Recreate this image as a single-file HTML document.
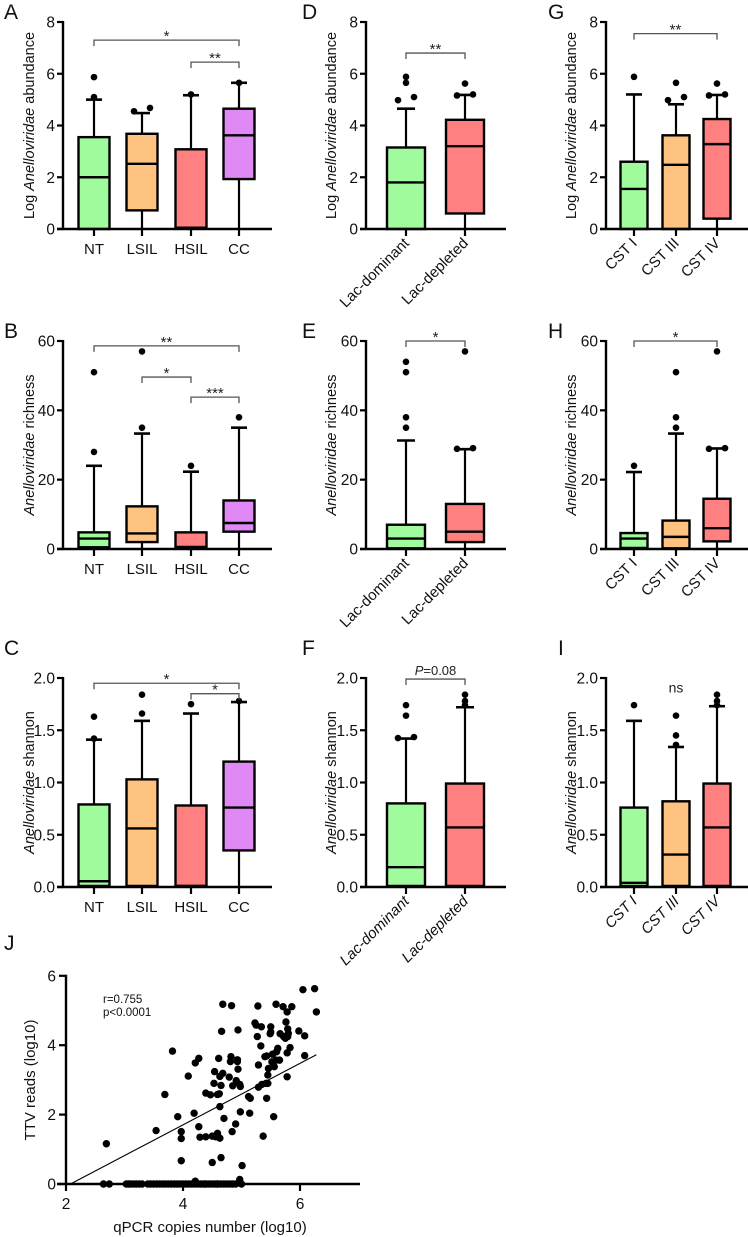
<!DOCTYPE html>
<html><head><meta charset="utf-8"><style>
html,body{margin:0;padding:0;background:#fff;}
svg{display:block;font-family:"Liberation Sans",Arial,sans-serif;}
</style></head><body>
<svg id="fig" width="748" height="1237" viewBox="0 0 748 1237" xmlns="http://www.w3.org/2000/svg"></svg>
<script>
// ---------- data ----------
const catsRisk = ["NT","LSIL","HSIL","CC"];
const catsLac = ["Lac-dominant","Lac-depleted"];
const catsCST = ["CST I","CST III","CST IV"];
const colRisk = ["#a0fb9d","#fec281","#ff8080","#e088f4"];
const colLac = ["#a0fb9d","#ff8080"];
const colCST = ["#a0fb9d","#fec281","#ff8080"];
// box stats: [q1, median, q3, whiskerLow, whiskerHigh]
const boxA = [[0,2.0,3.55,0,5.0],[0.72,2.52,3.68,0,4.48],[0.02,0.05,3.08,0,5.17],[1.93,3.62,4.65,0,5.65]];
const outA = [[5.1,5.87],[4.55,4.68],[5.2],[5.65]];
const sigA = [[0,3,7.3,"*"],[2,3,6.45,"**"]];
const boxD = [[0,1.8,3.15,0,4.65],[0.6,3.2,4.22,0,5.18]];
const outD = [[4.98,5.1,5.65,5.88],[5.16,5.2,5.62]];
const sigD = [[0,1,6.8,"**"]];
const boxG = [[0,1.55,2.6,0,5.2],[0,2.48,3.62,0,4.82],[0.4,3.28,4.25,0,5.18]];
const outG = [[5.88],[4.98,5.1,5.65],[5.16,5.2,5.62]];
const sigG = [[0,2,7.55,"**"]];
const boxB = [[0.5,3,4.8,0,24],[2,4.5,12.3,0,33.3],[0.5,0.6,4.8,0,22.3],[5,7.5,14,0,35]];
const outB = [[28,51],[35,57],[24],[38]];
const sigB = [[0,3,58.6,"**"],[1,2,49.6,"*"],[2,3,43.8,"***"]];
const boxE = [[0.2,3,7,0,31.3],[2,5,13,0,28.8]];
const outE = [[35,38,51,54],[28.9,29.1,57]];
const sigE = [[0,1,60,"*"]];
const boxH = [[0.3,3,4.6,0,22.2],[0.2,3.5,8.2,0,33.3],[2.2,6,14.5,0,29]];
const outH = [[24],[35,38,51],[28.9,29.1,57]];
const sigH = [[0,2,60,"*"]];
const boxC = [[0.01,0.055,0.79,0,1.41],[0.01,0.56,1.03,0,1.59],[0.01,0.01,0.78,0,1.66],[0.35,0.76,1.2,0,1.77]];
const outC = [[1.42,1.63],[1.66,1.84],[1.75],[1.78]];
const sigC = [[0,3,1.95,"*"],[2,3,1.85,"*"]];
const boxF = [[0.01,0.19,0.8,0,1.42],[0.01,0.57,0.99,0,1.72]];
const outF = [[1.425,1.435,1.64,1.74],[1.74,1.78,1.84]];
const sigF = [[0,1,1.99,"P=0.08"]];
const boxI = [[0.01,0.04,0.76,0,1.59],[0.01,0.31,0.82,0,1.34],[0.01,0.57,0.99,0,1.73]];
const outI = [[1.74],[1.36,1.45,1.64],[1.74,1.78,1.84]];
const nsI = [1,1.9,"ns"];
const ticksAbund = [0,2,4,6,8];
const ticksRich = [0,20,40,60];
const ticksShan = ["0.0","0.5","1.0","1.5","2.0"];
// scatter J
const jx = [2.69,2.64,2.74,3.03,3.1,3.15,3.2,3.3,3.4,3.5,3.6,3.7,3.8,3.9,4.0,4.05,4.1,4.2,4.25,4.3,4.35,4.4,4.45,4.5,4.55,4.6,4.65,4.7,4.8,4.9,5.0,4.97,4.21,
3.54,3.69,3.82,3.91,3.97,3.97,3.97,4.09,4.19,4.21,4.27,4.27,4.29,4.39,4.39,4.47,4.5,4.5,4.56,4.59,4.53,4.54,4.59,4.62,4.61,4.63,4.63,4.68,4.63,4.65,4.65,4.66,4.68,4.7,4.79,4.81,4.82,4.83,4.84,4.85,4.9,4.91,4.93,4.94,4.94,4.93,4.97,4.98,4.98,5.01,5.12,5.15,5.14,5.23,5.25,5.27,5.28,5.29,5.29,5.33,5.34,5.35,5.37,5.4,5.42,5.43,5.45,5.43,5.45,5.46,5.49,5.5,5.5,5.52,5.53,5.55,5.56,5.59,5.59,5.6,5.62,5.65,5.66,5.71,5.72,5.75,5.76,5.78,5.78,5.78,5.79,5.79,5.8,5.83,5.86,5.98,6.05,6.08,6.08,6.25,6.28,
3.07,3.25,3.45,3.55,3.65,3.75,3.85,3.95,4.15,4.38,4.58,4.75,4.85];
const jy = [1.16,0,0,0,0,0,0,0,0,0,0,0,0,0,0,0,0,0,0,0,0,0,0,0,0,0,0,0,0,0,0,0.13,0.08,
1.54,2.58,3.83,1.94,1.51,1.31,0.67,3.11,2.04,3.49,3.62,1.65,1.35,1.36,2.62,2.57,1.38,0.62,1.36,1.46,2.9,3.24,2.58,2.6,3.62,2.23,3.1,3.19,1.32,0.76,2.84,4.4,5.18,1.89,3.08,3.53,3.67,5.14,1.51,2.83,1.73,2.98,3.53,4.44,3.31,3.58,2.87,2.81,2.08,0.53,2.52,2.47,2.04,4.64,4.58,4.25,5.13,3.43,2.79,3.98,4.53,2.87,1.38,3.67,2.9,3.69,2.9,2.47,3.14,3.33,4.33,4.38,4.53,3.52,3.74,1.94,3.38,5.18,3.57,3.81,3.91,3.57,4.33,5.11,4.25,4.2,4.67,4.96,3.09,3.78,4.47,4.25,4.34,3.93,5.11,4.41,5.6,4.27,3.7,5.63,4.96,
0,0,0,0,0,0,0,0,0,0,0,0,0];
const fitSlope = 0.886, fitIntercept = -1.84;
const jTicksX = [2,4,6];
const jTicksY = [0,2,4,6];

// ---------- helpers ----------
const svg = document.getElementById('fig');
const NS = "http://www.w3.org/2000/svg";
function mk(tag, attrs, parent){const e=document.createElementNS(NS,tag);for(const k in attrs)e.setAttribute(k,attrs[k]);(parent||svg).appendChild(e);return e;}
function txt(s, attrs, parent){const e=mk('text',attrs,parent);e.textContent=s;return e;}

function panel(cfg){
  const g = mk('g',{});
  
  
  const y = v => cfg.y0 - (v - cfg.min) / (cfg.max - cfg.min) * (cfg.y0 - cfg.yTop);
  const range = cfg.max - cfg.min;
  const L = txt(cfg.letter,{x:cfg.lx,y:cfg.ly,'font-size':21,fill:'#111'},g);
  
  
  const yt = mk('text',{transform:`translate(${cfg.titleX},${(cfg.y0+cfg.yTop)/2}) rotate(-90)`,'text-anchor':'middle','font-size':14.5,fill:'#111'},g);
  
  
  cfg.title.forEach(p=>{const t=mk('tspan',{}, yt);t.textContent=p[0];if(p[1])t.setAttribute('font-style','italic');});
  cfg.boxes.forEach((b,i)=>{
    const cx = cfg.centers[i], w = cfg.bw, cap = cfg.cap;
    const bg = mk('g',{},g);
    
    
    mk('line',{x1:cx,x2:cx,y1:y(b[2]),y2:y(b[4]),stroke:'#000','stroke-width':2.2},bg);
    mk('line',{x1:cx-cap/2,x2:cx+cap/2,y1:y(b[4]),y2:y(b[4]),stroke:'#000','stroke-width':2.6},bg);
    mk('line',{x1:cx,x2:cx,y1:y(b[0]),y2:y(b[3]),stroke:'#000','stroke-width':2.2},bg);
    mk('rect',{x:cx-w/2,y:y(b[2]),width:w,height:Math.max(1,y(b[0])-y(b[2])),fill:cfg.colors[i],stroke:'#000','stroke-width':2.4},bg);
    mk('line',{x1:cx-w/2,x2:cx+w/2,y1:y(b[1]),y2:y(b[1]),stroke:'#000','stroke-width':2.4},bg);
    const outs = cfg.outs[i];
    const tol = range*0.02;
    outs.forEach((v,k)=>{
      let dx=0;
      const near = outs.filter((u,m)=>m!==k && Math.abs(u-v)<tol);
      if(near.length){dx = (outs.findIndex(u=>Math.abs(u-v)<tol)===k)?-8:8;}
      const c = mk('circle',{cx:cx+dx,cy:y(v),r:3.3,fill:'#000'},bg);
      
      
    });
  });
  const ax = mk('g',{},g);
  
  
  mk('line',{x1:cfg.ax,x2:cfg.ax,y1:cfg.yTop-1,y2:cfg.y0+1,stroke:'#000','stroke-width':2.4},ax);
  mk('line',{x1:cfg.ax-6,x2:cfg.xEnd,y1:cfg.y0,y2:cfg.y0,stroke:'#000','stroke-width':2.4},ax);
  cfg.ticks.forEach(t=>{
    const v=parseFloat(t), yy=y(v);
    mk('line',{x1:cfg.ax-6,x2:cfg.ax,y1:yy,y2:yy,stroke:'#000','stroke-width':2.2},ax);
    const tl = txt(String(t),{x:cfg.ax-8,y:yy+5.5,'text-anchor':'end','font-size':15.5,fill:'#111'},ax);
    
    
  });
  cfg.centers.forEach((cx,i)=>{
    mk('line',{x1:cx,x2:cx,y1:cfg.y0,y2:cfg.y0+7,stroke:'#000','stroke-width':2.2},ax);
    let t;
    if(cfg.rot){
      t = txt(cfg.cats[i],{transform:`translate(${cx+4},${cfg.y0+15}) rotate(-45)`,'text-anchor':'end','font-size':15,fill:'#111','font-style':cfg.italicCats?'italic':'normal'},ax);
    } else {
      t = txt(cfg.cats[i],{x:cx,y:cfg.y0+25,'text-anchor':'middle','font-size':15,fill:'#111'},ax);
    }
    
    
  });
  (cfg.sig||[]).forEach(s=>{
    const x1=cfg.centers[s[0]], x2=cfg.centers[s[1]], yy=y(s[2]);
    const sg = mk('g',{},g);
    
    
    mk('path',{d:`M${x1},${yy+6}V${yy}H${x2}V${yy+6}`,fill:'none',stroke:'#555','stroke-width':1.3},sg);
    const lab = s[3];
    if(lab.startsWith('P=')){
      const t = mk('text',{x:(x1+x2)/2,y:yy-4,'text-anchor':'middle','font-size':13,fill:'#222'},sg);
      const a=mk('tspan',{'font-style':'italic'},t);a.textContent='P';
      const b=mk('tspan',{},t);b.textContent=lab.slice(1);
    } else {
      txt(lab,{x:(x1+x2)/2,y:yy+1,'text-anchor':'middle','font-size':15,fill:'#222'},sg);
    }
  });
  if(cfg.ns){
    const t = txt(cfg.ns[2],{x:cfg.centers[cfg.ns[0]],y:y(cfg.ns[1])+4,'text-anchor':'middle','font-size':14,fill:'#222'},g);
    
    
  }
}

const col1 = {ax:63,xEnd:272,centers:[94,142,191,239],bw:31,cap:16,titleX:34,lx:4,colors:colRisk,cats:catsRisk,rot:false};
const col2 = {ax:366,xEnd:506,centers:[406,465],bw:38,cap:18,titleX:336,lx:302,colors:colLac,cats:catsLac,rot:true};
const col3 = {ax:606,xEnd:748,centers:[634,676,717],bw:27,cap:16,titleX:576,lx:548,colors:colCST,cats:catsCST,rot:true};
const row1 = {y0:229,yTop:22,min:0,max:8,ticks:ticksAbund,ly:19,title:[["Log "],["Anelloviridae",1],[" abundance"]]};
const row2 = {y0:549,yTop:341,min:0,max:60,ticks:ticksRich,ly:338,title:[["Anelloviridae",1],[" richness"]]};
const row3 = {y0:887,yTop:678,min:0,max:2,ticks:ticksShan,ly:655,title:[["Anelloviridae",1],[" shannon"]]};

panel(Object.assign({},col1,row1,{name:'panel-a',letter:'A',boxes:boxA,outs:outA,sig:sigA}));
panel(Object.assign({},col2,row1,{name:'panel-d',letter:'D',boxes:boxD,outs:outD,sig:sigD}));
panel(Object.assign({},col3,row1,{name:'panel-g',letter:'G',boxes:boxG,outs:outG,sig:sigG}));
panel(Object.assign({},col1,row2,{name:'panel-b',letter:'B',boxes:boxB,outs:outB,sig:sigB}));
panel(Object.assign({},col2,row2,{name:'panel-e',letter:'E',boxes:boxE,outs:outE,sig:sigE}));
panel(Object.assign({},col3,row2,{name:'panel-h',letter:'H',boxes:boxH,outs:outH,sig:sigH}));
panel(Object.assign({},col1,row3,{name:'panel-c',letter:'C',boxes:boxC,outs:outC,sig:sigC}));
panel(Object.assign({},col2,row3,{name:'panel-f',letter:'F',boxes:boxF,outs:outF,sig:sigF,italicCats:true}));
panel(Object.assign({},col3,row3,{name:'panel-i',letter:'I',lx:558,boxes:boxI,outs:outI,ns:nsI,italicCats:true}));

// ---------- panel J ----------
(function(){
  const g = mk('g',{});
  
  
  const X = v => 66 + (v-2)*58.5;
  const Y = v => 1184 - v*34.7;
  const L = txt('J',{x:4,y:950,'font-size':21,fill:'#111'},g);
  
  
  const pts = mk('g',{},g);
  
  
  jx.forEach((v,i)=>{
    const c = mk('circle',{cx:X(v),cy:Y(jy[i]),r:3.7,fill:'#000'},pts);
    
    
  });
  const x0 = -fitIntercept/fitSlope, x1 = Math.max(...jx);
  const fl = mk('line',{x1:X(x0),y1:Y(0),x2:X(x1),y2:Y(fitSlope*x1+fitIntercept),stroke:'#000','stroke-width':1.1},g);
  
  
  mk('line',{x1:66,x2:66,y1:Y(6)-1,y2:1185,stroke:'#000','stroke-width':2.4},g);
  mk('line',{x1:57,x2:360,y1:1184,y2:1184,stroke:'#000','stroke-width':2.4},g);
  jTicksY.forEach(t=>{
    mk('line',{x1:59,x2:66,y1:Y(t),y2:Y(t),stroke:'#000','stroke-width':2.2},g);
    const l=txt(String(t),{x:56,y:Y(t)+5.5,'text-anchor':'end','font-size':15.5,fill:'#111'},g);
    
    
  });
  jTicksX.forEach(t=>{
    mk('line',{x1:X(t),x2:X(t),y1:1184,y2:1191,stroke:'#000','stroke-width':2.2},g);
    const l=txt(String(t),{x:X(t),y:1209,'text-anchor':'middle','font-size':15.5,fill:'#111'},g);
    
    
  });
  const yt = txt('TTV reads (log10)',{transform:'translate(35,1080) rotate(-90)','text-anchor':'middle','font-size':15,fill:'#111'},g);
  
  
  const xt = txt('qPCR copies number (log10)',{x:210,y:1232,'text-anchor':'middle','font-size':15,fill:'#111'},g);
  
  
  const s1 = txt('r=0.755',{x:103,y:1003,'font-size':11.5,fill:'#111'},g);
  
  
  const s2 = txt('p<0.0001',{x:103,y:1016,'font-size':11.5,fill:'#111'},g);
  
  
})();
</script>
</body></html>
